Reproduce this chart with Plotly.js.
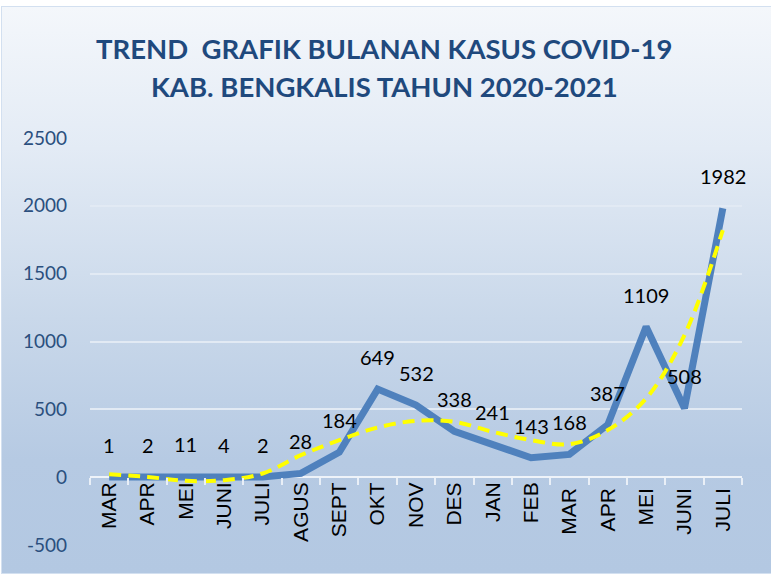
<!DOCTYPE html>
<html>
<head>
<meta charset="utf-8">
<script src="https://cdn.plot.ly/plotly-3.0.1.min.js"></script>
<style>
  html, body { margin: 0; padding: 0; background: #ffffff; }
  #frame {
    position: absolute; left: 1px; top: 6px; width: 772px; height: 568px;
    border: 1px solid #d3e0f0; box-sizing: border-box;
    background: linear-gradient(to bottom, #f4f7fb 0%, #e3ebf5 25%, #c9d8ea 55%, #b6cae3 80%, #b3c8e2 100%);
  }
  #chart { position: absolute; left: 0; top: 0; width: 771px; height: 577px; }
</style>
</head>
<body>
<div id="frame"></div>
<div id="chart"></div>
<script>
const titleLines = ["TREND  GRAFIK BULANAN KASUS COVID-19", "KAB. BENGKALIS TAHUN 2020-2021"];
const months = ["MAR", "APR", "MEI", "JUNI", "JULI", "AGUS", "SEPT", "OKT", "NOV", "DES", "JAN", "FEB", "MAR ", "APR ", "MEI ", "JUNI ", "JULI "];
const cases = [1, 2, 11, 4, 2, 28, 184, 649, 532, 338, 241, 143, 168, 387, 1109, 508, 1982];
const trend = [22, 2, -27, -22, 27, 162, 273, 366, 415, 408, 334, 273, 243, 347, 580, 1047, 1821];
const yTicks = [-500, 0, 500, 1000, 1500, 2000, 2500];
const yMin = -500, yMax = 2500;

const traces = [
  {
    x: months, y: cases, type: "scatter", mode: "lines",
    line: { color: "#4f81bd", width: 7 },
    hoverinfo: "skip"
  },
  {
    x: months, y: trend, type: "scatter", mode: "lines",
    line: { color: "#ffff00", width: 4, dash: "12px,7px", shape: "spline", smoothing: 1 },
    hoverinfo: "skip"
  }
];

const annotations = months.map((m, i) => ({
  x: m, y: cases[i], xref: "x", yref: "y",
  text: String(cases[i]), showarrow: false, yshift: 32,
  font: { family: "Lato, 'Open Sans', sans-serif", size: 20, color: "#000000" }
}));
titleLines.forEach((t, i) => annotations.push({
  x: 0.451, xref: "paper", xanchor: "center",
  y: [1.221, 1.126][i], yref: "paper", yanchor: "middle",
  text: "<b>" + t + "</b>", showarrow: false,
  font: { family: "Lato, 'Open Sans', sans-serif", size: 27.5, color: "#1f497d", weight: 900 }
}));

const layout = {
  width: 771, height: 577,
  paper_bgcolor: "rgba(0,0,0,0)",
  plot_bgcolor: "rgba(0,0,0,0)",
  margin: { l: 90, r: 29, t: 138, b: 32 },
  showlegend: false,
  xaxis: {
    type: "category",
    tickangle: -90,
    tickfont: { family: "'Liberation Sans', Arial, sans-serif", size: 21, color: "#000000" },
    ticks: "outside", tickson: "boundaries", ticklen: 7, tickcolor: "#e9eff7", tickwidth: 2,
    showgrid: false, showline: false, zeroline: false,
    anchor: "free", position: (0 - yMin) / (yMax - yMin),
    range: [-0.5, 16.5]
  },
  yaxis: {
    range: [yMin, yMax],
    tickvals: yTicks,
    ticktext: yTicks.map(String),
    tickfont: { family: "Lato, 'Open Sans', sans-serif", size: 19, color: "#2b4f7e" },
    showgrid: true, gridcolor: "#e2eaf4", gridwidth: 2,
    zeroline: true, zerolinecolor: "#eef3f9", zerolinewidth: 2,
    showline: false, ticks: "", ticklabelstandoff: 22
  },
  annotations: annotations
};

Plotly.newPlot("chart", traces, layout, { displayModeBar: false, staticPlot: true });
</script>
</body>
</html>
